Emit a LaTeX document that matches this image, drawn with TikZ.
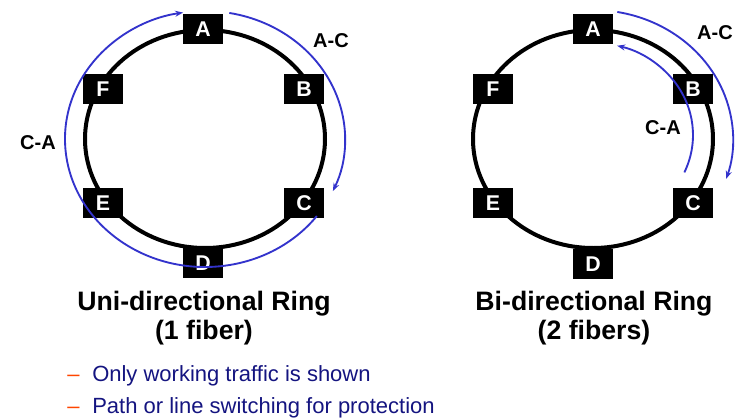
\documentclass[tikz,border=0pt]{standalone}
\usepackage{fontspec}
\setmainfont{Liberation Sans}
\usetikzlibrary{arrows.meta}
\definecolor{flowblue}{RGB}{51,51,204}
\definecolor{textnavy}{RGB}{20,20,128}
\definecolor{dashred}{RGB}{255,69,0}
\tikzset{
	ring/.style={line width=3pt},
	station/.style={fill=black, text=white, inner sep=0pt, minimum width=30pt, minimum height=22.5pt, font=\fontsize{16}{16}\selectfont\bfseries},
	flow/.style={flowblue, line width=1.4pt, -{Stealth[length=6pt, width=4.5pt]}},
	flowlabel/.style={font=\fontsize{15}{15}\selectfont\bfseries},
	ringtitle/.style={align=center, font=\fontsize{20}{21.75}\selectfont\bfseries},
	bullet/.style={anchor=base west, inner sep=0pt, text=textnavy, font=\fontsize{16.5}{17}\selectfont}
}
\begin{document}
\begin{tikzpicture}[x=0.75pt, y=-0.75pt]
	\useasboundingbox (0, 0) rectangle (740, 418);
	% uni-directional ring
	\coordinate (ctrL) at (205, 139);
	\draw[ring] (ctrL) ellipse [x radius=120, y radius=109];
	\node[station] (uA) at (203, 29) {A};
	\node[station] (uB) at (304, 89) {B};
	\node[station] (uC) at (304, 203) {C};
	\node[station] (uD) at (203, 263) {D};
	\node[station] (uE) at (103, 203) {E};
	\node[station] (uF) at (103, 89) {F};
	\draw[flow] ([shift={(-80:140 and 128)}]ctrL) arc[start angle=-80, end angle=24, x radius=140, y radius=128];
	\draw[flow] ([shift={(37:140 and 128)}]ctrL) arc[start angle=37, end angle=261, x radius=140, y radius=128];
	\node[flowlabel] (uAC) at (331, 41) {A-C};
	\node[flowlabel] (uCA) at (38, 143) {C-A};
	\node[ringtitle] (uTitle) at (204, 318) {Uni-directional Ring\\(1 fiber)};
	% bi-directional ring
	\coordinate (ctrR) at (593, 139);
	\coordinate (ctrIn) at (593, 135);
	\draw[ring] (ctrR) ellipse [x radius=120, y radius=109];
	\node[station] (bA) at (593, 29) {A};
	\node[station] (bB) at (693, 89) {B};
	\node[station] (bC) at (693, 203) {C};
	\node[station] (bD) at (593, 264) {D};
	\node[station] (bE) at (493, 203) {E};
	\node[station] (bF) at (493, 89) {F};
	\draw[flow] ([shift={(-80:140 and 129)}]ctrR) arc[start angle=-80, end angle=18, x radius=140, y radius=129];
	\draw[flow] ([shift={(24:100 and 92)}]ctrIn) arc[start angle=24, end angle=-76, x radius=100, y radius=92];
	\node[flowlabel] (bAC) at (715, 33) {A-C};
	\node[flowlabel] (bCA) at (663, 128) {C-A};
	\node[ringtitle] (bTitle) at (594, 318) {Bi-directional Ring\\(2 fibers)};
	% notes
	\node[bullet] (dash1) at (67, 381) {\textcolor{dashred}{--}};
	\node[bullet] (note1) at (92, 381) {Only working traffic is shown};
	\node[bullet] (dash2) at (67, 413) {\textcolor{dashred}{--}};
	\node[bullet] (note2) at (92, 413) {Path or line switching for protection};
\end{tikzpicture}
\end{document}
